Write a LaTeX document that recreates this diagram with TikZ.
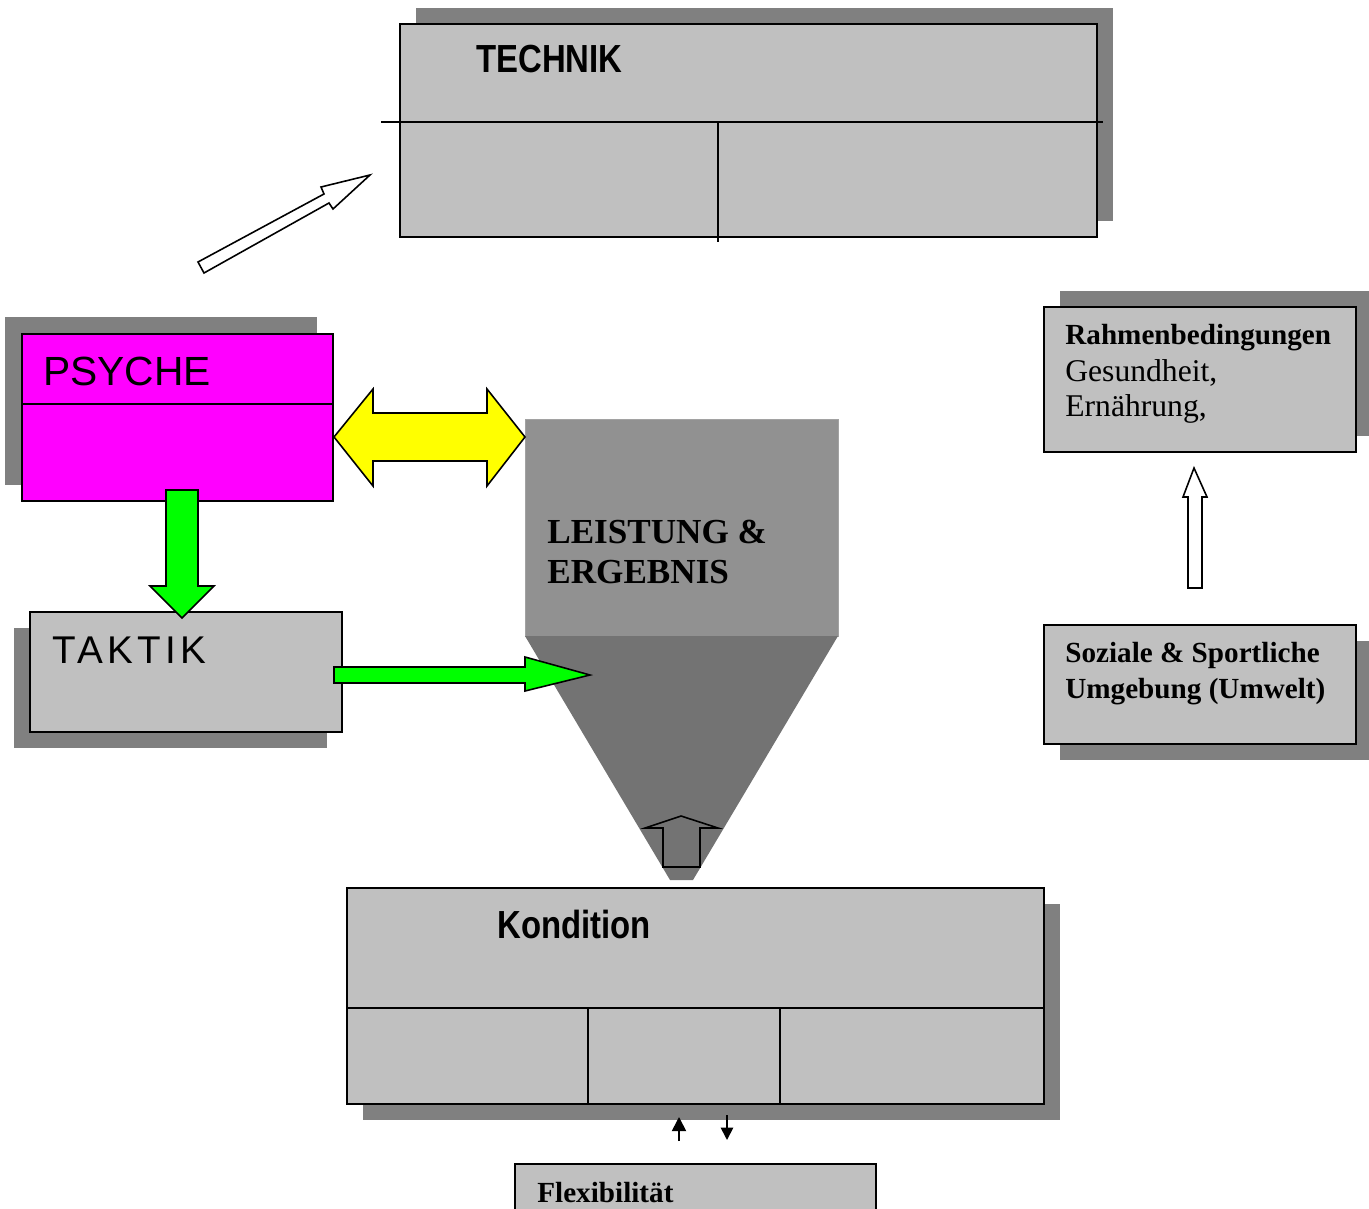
\documentclass[tikz,border=0pt]{standalone}
\usepackage{fontspec}
\setmainfont{Liberation Serif}
\newfontfamily\arialfont{Liberation Sans}
\newfontfamily\spacedfont[LetterSpace=11]{Liberation Sans}
\newfontfamily\narrowfont[FakeStretch=0.84]{Liberation Sans}
\usetikzlibrary{fit,arrows.meta}
\definecolor{boxgray}{HTML}{C0C0C0}
\definecolor{shadowgray}{HTML}{808080}
\definecolor{topgray}{HTML}{919191}
\definecolor{funnelgray}{HTML}{737373}
\definecolor{psychecol}{HTML}{FF00FF}
\definecolor{greencol}{HTML}{00FF00}
\definecolor{yellowcol}{HTML}{FFFF00}
\tikzset{
	box/.style={draw, line width=1pt, fill=boxgray, inner sep=0pt},
	shadowbox/.style={fill=shadowgray},
	blockarrow/.style={draw, line width=0.9pt, line join=miter},
	headline/.style={anchor=base west, inner sep=0pt, font=\narrowfont\bfseries\fontsize{22.3}{26}\selectfont},
	sanslabel/.style={anchor=base west, inner sep=0pt, font=\arialfont\fontsize{23.2}{27}\selectfont},
	serifbig/.style={anchor=base west, inner sep=0pt, font=\bfseries\fontsize{20}{24}\selectfont},
	seriflabel/.style={anchor=base west, inner sep=0pt, font=\fontsize{18}{21}\selectfont},
	seriflabelb/.style={anchor=base west, inner sep=0pt, font=\bfseries\fontsize{16.6}{20}\selectfont},
}
\begin{document}
\begin{tikzpicture}[x=0.02cm, y=-0.02cm]
		\clip (0, 0) rectangle (1369, 1209);
		% shadows
		\fill[shadowbox] (416, 8) rectangle (1113, 221);
		\fill[shadowbox] (5, 317) rectangle (317, 485);
		\fill[shadowbox] (14, 628) rectangle (327, 748);
		\fill[shadowbox] (363, 904) rectangle (1060, 1120);
		\fill[shadowbox] (1060, 291) rectangle (1369, 436);
		\fill[shadowbox] (1060, 641) rectangle (1369, 760);
		% boxes
		\node[box, fit={(400, 24) (1097, 237)}] (technik) {};
		\node[box, fill=psychecol, fit={(22, 334) (333, 501)}] (psyche) {};
		\node[box, fit={(30, 612) (342, 732)}] (taktik) {};
		\node[box, fit={(347, 888) (1044, 1104)}] (kondition) {};
		\node[box, fit={(515, 1164) (876, 1240)}] (flex) {};
		\node[box, fit={(1044, 307) (1356, 452)}] (rahmen) {};
		\node[box, fit={(1044, 625) (1356, 744)}] (umwelt) {};
		\draw[line width=1pt] (381, 122) -- (1103, 122);
		\draw[line width=1pt] (718, 122) -- (718, 242);
		\draw[line width=1pt] (psyche.west |- 0, 404) -- (psyche.east |- 0, 404);
		\draw[line width=1pt] (kondition.west |- 0, 1008) -- (kondition.east |- 0, 1008);
		\foreach \x in {588, 780}
			\draw[line width=1pt] (\x, 1008) -- (\x, 1104);
		% leistung & ergebnis
		\node[fill=topgray, draw=topgray!85!white, inner sep=0pt, fit={(525, 419) (838, 636)}] (leistung) {};
		\fill[funnelgray] (525, 636) -- (838, 636) -- (693, 880) -- (670, 880) -- cycle;
		\draw[blockarrow] (663, 867) -- (663, 828) -- (645, 828) -- (681, 816) -- (718, 828) -- (700, 828) -- (700, 867) -- cycle;
		% block arrows
		\draw[blockarrow, fill=white] (198, 262) -- (324, 194) -- (321, 187) -- (370, 175) -- (333, 209) -- (329, 203) -- (204, 273) -- cycle;
		\draw[blockarrow, fill=yellowcol] (334, 437) -- (373, 389) -- (373, 413) -- (487, 413) -- (487, 389) -- (525, 437)
			-- (487, 486) -- (487, 461) -- (373, 461) -- (373, 486) -- cycle;
		\draw[blockarrow, fill=greencol] (166, 490) -- (198, 490) -- (198, 586) -- (214, 586) -- (182, 618) -- (150, 586) -- (166, 586) -- cycle;
		\draw[blockarrow, fill=greencol] (334, 667) -- (525, 667) -- (525, 657) -- (590, 675) -- (525, 691) -- (525, 683) -- (334, 683) -- cycle;
		\draw[blockarrow, fill=white] (1188, 588) -- (1188, 497) -- (1183, 497) -- (1194, 468) -- (1207, 497) -- (1202, 497) -- (1202, 588) -- cycle;
		% small arrows
		\coordinate (upfoot) at (679, 1141);
		\coordinate (uptip) at (679, 1117);
		\coordinate (downtop) at (727, 1115);
		\coordinate (downtip) at (727, 1140);
		\draw[line width=1pt, -{Triangle[length=8pt, width=8pt]}] (upfoot) -- (uptip);
		\draw[line width=1pt, -{Triangle[length=7pt, width=7pt]}] (downtop) -- (downtip);
		% labels
		\node[headline] (technik text) at (476, 73) {TECHNIK};
		\node[headline] (kondition text) at (497, 938) {Kondition};
		\node[sanslabel] (psyche text) at (43, 386) {PSYCHE};
		\node[sanslabel, font=\spacedfont\fontsize{22}{26}\selectfont] (taktik text) at (52, 663) {TAKTIK};
		\node[serifbig] (leistung text) at (547, 543) {LEISTUNG \&};
		\node[serifbig] (ergebnis text) at (547, 583) {ERGEBNIS};
		\node[seriflabelb] (flex text) at (537, 1202) {Flexibilität};
		\node[seriflabelb] (rahmen text) at (1065, 345) {Rahmenbedingungen};
		\node[seriflabel] (gesund text) at (1065, 381) {Gesundheit,};
		\node[seriflabel] (ernaehr text) at (1065, 417) {Ernährung,};
		\node[seriflabelb] (sozial text) at (1065, 662) {Soziale \& Sportliche};
		\node[seriflabelb] (umgebung text) at (1065, 698) {Umgebung (Umwelt)};
\end{tikzpicture}
\end{document}
